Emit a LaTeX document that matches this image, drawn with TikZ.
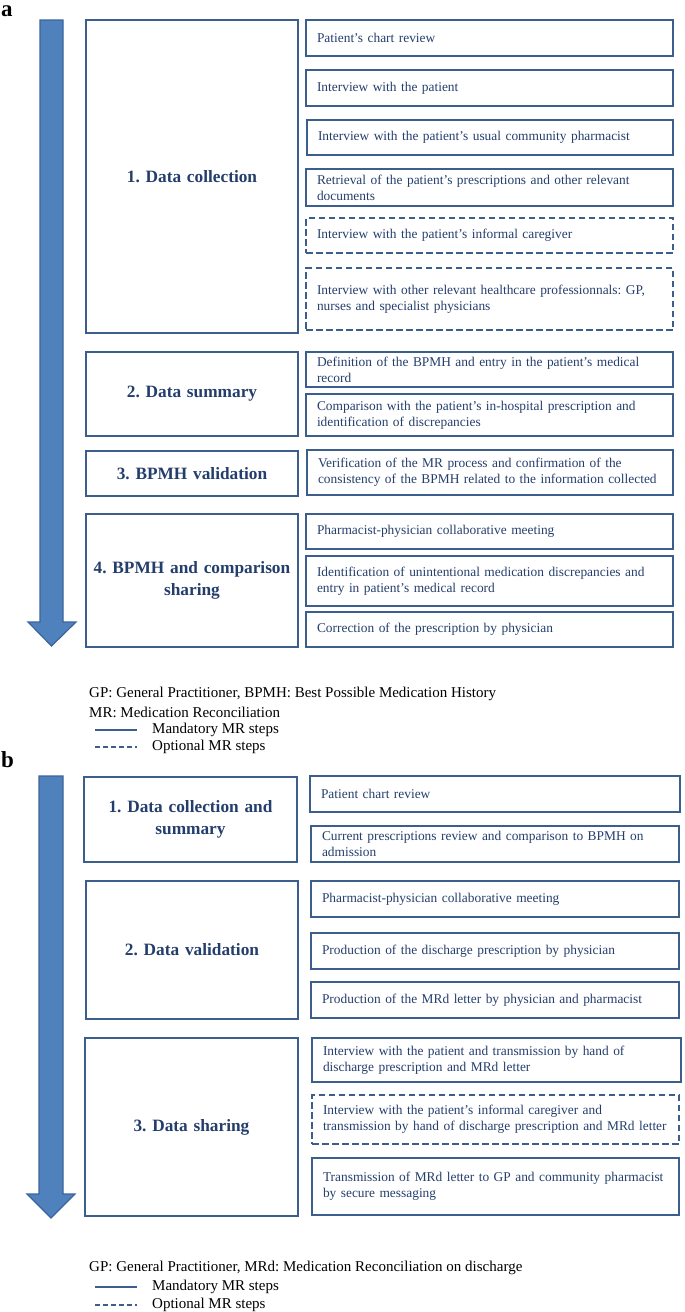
\documentclass[tikz,border=0pt]{standalone}
\usepackage{fontspec}
\setmainfont{Liberation Serif}
\frenchspacing
\definecolor{boxc}{RGB}{59,94,140}
\definecolor{txtc}{RGB}{36,62,108}
\definecolor{arrfill}{RGB}{79,129,189}
\definecolor{arredge}{RGB}{58,100,155}
\newcommand\bodyfont{\fontsize{13.4}{16}\selectfont}
\newcommand\titlefont{\fontsize{17.3}{21.5}\selectfont\bfseries}
\newcommand\legfont{\fontsize{15}{17}\selectfont}
% #1 style, #2 name, #3 x1, #4 y1, #5 x2, #6 y2, #7 text
\newcommand\mybox[7]{%
  \node[#1, minimum width={#5-#3}, minimum height={#6-#4}, text width={#5-#3-22}]
    (#2) at ({(#3+#5)/2},{(#4+#6)/2}) {#7};}
\newcommand\myphase[6]{%
  \node[phasebox, minimum width={#4-#2}, minimum height={#5-#3}, text width={#4-#2-8}]
    (#1) at ({(#2+#4)/2},{(#3+#5)/2}) {#6};}
\tikzset{
  base/.style={draw=boxc, line width=2.6pt, rectangle, inner xsep=11pt, inner ysep=0pt, text=txtc, outer sep=0pt},
  stepbox/.style={base, align=left, font=\bodyfont},
  optbox/.style={stepbox, dash pattern=on 6.5pt off 3.5pt},
  phasebox/.style={base, inner xsep=4pt, align=center, font=\titlefont},
  bigarrow/.style={fill=arrfill, draw=arredge, line width=1.2pt, line join=miter},
  legtext/.style={anchor=west, inner sep=0pt, font=\legfont, text=black},
  panel/.style={anchor=base west, inner sep=0pt, font=\fontsize{23}{23}\selectfont\bfseries},
}
\begin{document}
\begin{tikzpicture}[x=1pt, y=-1pt]
\useasboundingbox (0,0) rectangle (685,1312);
% ---------------- panel a ----------------
\node[panel] (la) at (1,16) {a};
\draw[bigarrow] (40,20) -- (63,20) -- (63,622) -- (76,622) -- (51.5,646) -- (28,622) -- (40,622) -- cycle;
\myphase{a1}{86}{20}{298}{333}{1. Data collection}
\mybox{stepbox}{a1r1}{306}{20}{673}{56}{Patient’s chart review}
\mybox{stepbox}{a1r2}{306}{70}{673}{106}{Interview with the patient}
\mybox{stepbox}{a1r3}{307}{120}{673}{155}{Interview with the patient’s usual community pharmacist}
\mybox{stepbox}{a1r4}{306}{169}{673}{206}{Retrieval of the patient’s prescriptions and other relevant\\documents}
\mybox{optbox}{a1r5}{306}{218}{673}{253}{Interview with the patient’s informal caregiver}
\mybox{optbox}{a1r6}{306}{268}{673}{330}{Interview with other relevant healthcare professionnals: GP,\\nurses and specialist physicians}
\myphase{a2}{86}{352}{298}{436}{2. Data summary}
\mybox{stepbox}{a2r1}{306}{352}{673}{387}{Definition of the BPMH and entry in the patient’s medical\\record}
\mybox{stepbox}{a2r2}{306}{394}{673}{436}{Comparison with the patient’s in-hospital prescription and\\identification of discrepancies}
\myphase{a3}{86}{451}{298}{496}{3. BPMH validation}
\mybox{stepbox}{a3r1}{307}{450}{673}{495}{Verification of the MR process and confirmation of the\\consistency of the BPMH related to the information collected}
\myphase{a4}{86}{514}{298}{647}{4. BPMH and comparison\\sharing}
\mybox{stepbox}{a4r1}{306}{514}{673}{549}{Pharmacist-physician collaborative meeting}
\mybox{stepbox}{a4r2}{306}{556}{673}{606}{Identification of unintentional medication discrepancies and\\entry in patient’s medical record}
\mybox{stepbox}{a4r3}{306}{612}{673}{647}{Correction of the prescription by physician}
% legend a
\node[legtext] (lga1) at (89,694) {GP: General Practitioner, BPMH: Best Possible Medication History};
\node[legtext] (lga2) at (89,712) {MR: Medication Reconciliation};
\node[legtext] (lga3) at (152,730) {Mandatory MR steps};
\node[legtext] (lga4) at (152,747) {Optional MR steps};
\coordinate (lsa1) at (95,730); \coordinate (lsa2) at (137,730);
\coordinate (lda1) at (95,747); \coordinate (lda2) at (137,747);
\draw[boxc, line width=2pt] (lsa1) -- (lsa2);
\draw[boxc, line width=2pt, dash pattern=on 5pt off 3pt] (lda1) -- (lda2);
% ---------------- panel b ----------------
\node[panel] (lb) at (1,767) {b};
\draw[bigarrow] (39,776) -- (63,776) -- (63,1194) -- (75,1194) -- (51,1218) -- (27,1194) -- (39,1194) -- cycle;
\myphase{b1}{84}{777}{297}{862}{1. Data collection and\\summary}
\mybox{stepbox}{b1r1}{310}{776}{680}{812}{Patient chart review}
\mybox{stepbox}{b1r2}{311}{826}{679}{862}{Current prescriptions review and comparison to BPMH on\\admission}
\myphase{b2}{86}{881}{298}{1019}{2. Data validation}
\mybox{stepbox}{b2r1}{311}{881}{679}{917}{Pharmacist-physician collaborative meeting}
\mybox{stepbox}{b2r2}{311}{933}{679}{969}{Production of the discharge prescription by physician}
\mybox{stepbox}{b2r3}{311}{982}{679}{1018}{Production of the MRd letter by physician and pharmacist}
\myphase{b3}{85}{1038}{298}{1216}{3. Data sharing}
\mybox{stepbox}{b3r1}{312}{1038}{681}{1082}{Interview with the patient and transmission by hand of\\discharge prescription and MRd letter}
\mybox{optbox}{b3r2}{312}{1095}{679}{1144}{Interview with the patient’s informal caregiver and\\transmission by hand of discharge prescription and MRd letter}
\mybox{stepbox}{b3r3}{312}{1158}{679}{1215}{Transmission of MRd letter to GP and community pharmacist\\by secure messaging}
% legend b
\node[legtext] (lgb1) at (89,1268) {GP: General Practitioner, MRd: Medication Reconciliation on discharge};
\node[legtext] (lgb3) at (152,1287) {Mandatory MR steps};
\node[legtext] (lgb4) at (152,1305) {Optional MR steps};
\coordinate (lsb1) at (95,1287); \coordinate (lsb2) at (137,1287);
\coordinate (ldb1) at (95,1305); \coordinate (ldb2) at (137,1305);
\draw[boxc, line width=2pt] (lsb1) -- (lsb2);
\draw[boxc, line width=2pt, dash pattern=on 5pt off 3pt] (ldb1) -- (ldb2);
\end{tikzpicture}
\end{document}
